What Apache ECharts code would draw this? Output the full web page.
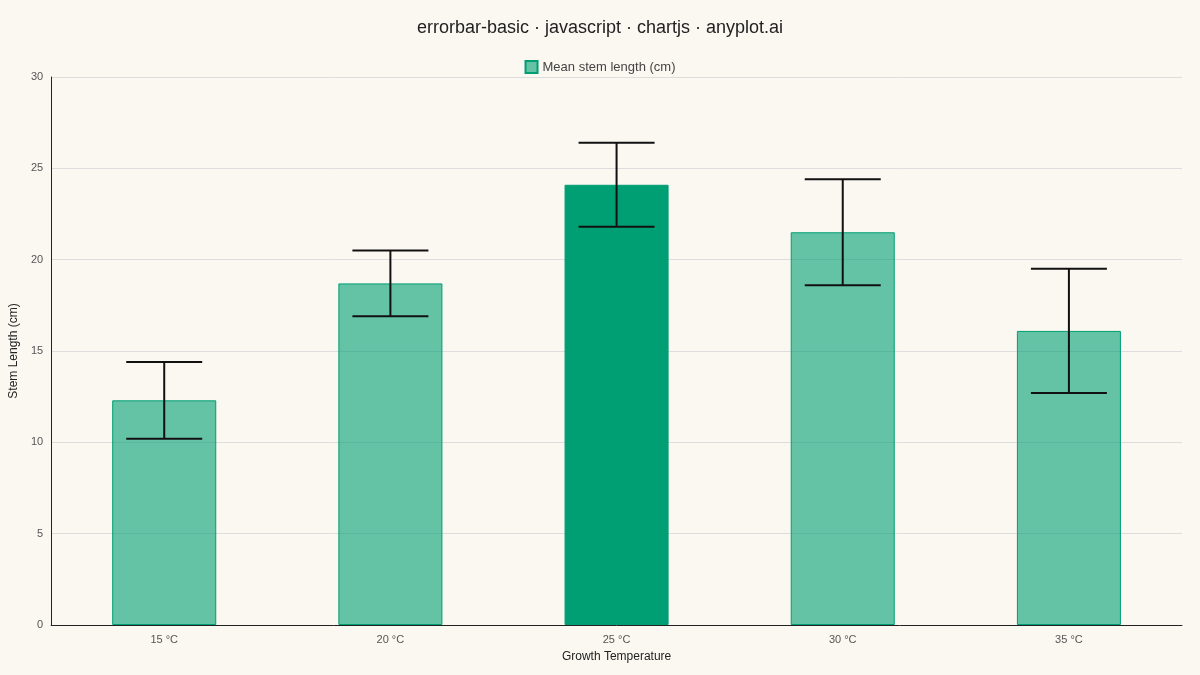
<!DOCTYPE html>
<html>
<head>
<meta charset="utf-8">
<script src="https://cdn.jsdelivr.net/npm/echarts@6/dist/echarts.min.js"></script>
<style>html,body{margin:0;background:#FAF8F1}#main{width:1200px;height:675px}</style>
</head>
<body>
<div id="main"></div>
<script>
const categories = ['15 °C', '20 °C', '25 °C', '30 °C', '35 °C'];
const means = [12.3, 18.7, 24.1, 21.5, 16.1];
const errors = [2.1, 1.8, 2.3, 2.9, 3.4];
const highlight = 2;

const chart = echarts.init(document.getElementById('main'));

chart.setOption({
  backgroundColor: '#FAF8F1',
  animation: false,
  textStyle: { fontFamily: 'Liberation Sans, Arial, sans-serif' },
  title: {
    text: 'errorbar-basic · javascript · chartjs · anyplot.ai',
    left: 'center', top: 14,
    textStyle: { fontSize: 18, fontWeight: 'normal', color: '#222' }
  },
  legend: {
    top: 55, itemWidth: 12, itemHeight: 12,
    data: [{ name: 'Mean stem length (cm)', icon: 'rect' }],
    textStyle: { fontSize: 13, color: '#444' }
  },
  grid: { left: 49, right: 18, top: 77, bottom: 50 },
  xAxis: {
    type: 'category', data: categories,
    name: 'Growth Temperature', nameLocation: 'middle', nameGap: 26,
    nameTextStyle: { fontSize: 12, color: '#222' },
    axisLine: { lineStyle: { color: '#222' } },
    axisTick: { show: false },
    axisLabel: { color: '#555', fontSize: 11, margin: 9 }
  },
  yAxis: {
    type: 'value', min: 0, max: 30, interval: 5,
    name: 'Stem Length (cm)', nameLocation: 'middle', nameGap: 28,
    nameTextStyle: { fontSize: 12, color: '#222' },
    axisLine: { show: true, lineStyle: { color: '#222' } },
    axisLabel: { color: '#555', fontSize: 11 },
    splitLine: { lineStyle: { color: '#ddd' } }
  },
  series: [
    {
      name: 'Mean stem length (cm)', type: 'bar', barWidth: '46%',
      itemStyle: { color: 'rgba(0,158,115,0.6)', borderColor: '#009E73', borderWidth: 1 },
      data: means.map((v, i) => i === highlight
        ? { value: v, itemStyle: { color: '#009E73' } } : v)
    },
    {
      type: 'custom', silent: true,
      data: means.map((v, i) => [i, v - errors[i], v + errors[i]]),
      renderItem: (params, api) => {
        const lo = api.coord([api.value(0), api.value(1)]);
        const hi = api.coord([api.value(0), api.value(2)]);
        const w = 38;
        const style = { stroke: '#111', lineWidth: 2 };
        return {
          type: 'group',
          children: [
            { type: 'line', shape: { x1: lo[0], y1: lo[1], x2: hi[0], y2: hi[1] }, style },
            { type: 'line', shape: { x1: lo[0] - w, y1: lo[1], x2: lo[0] + w, y2: lo[1] }, style },
            { type: 'line', shape: { x1: hi[0] - w, y1: hi[1], x2: hi[0] + w, y2: hi[1] }, style }
          ]
        };
      },
      z: 10
    }
  ]
});
</script>
</body>
</html>
